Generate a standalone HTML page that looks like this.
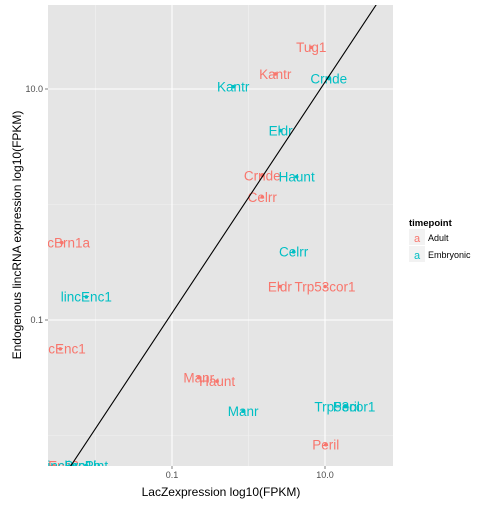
<!DOCTYPE html>
<html><head><meta charset="utf-8"><style>
body{margin:0;background:#fff;}
svg{font-family:"Liberation Sans",sans-serif;}
</style></head><body>
<svg id="chart" width="504" height="504" xmlns="http://www.w3.org/2000/svg">
<defs><clipPath id="pc"><rect x="48" y="5" width="345" height="461"/></clipPath></defs>
<rect x="48" y="5" width="345" height="461" fill="#e5e5e5"/>
<g id="grid"></g>
<g id="marks" clip-path="url(#pc)"></g>
<g id="axes"></g>
<text x="221" y="496" font-size="12" text-anchor="middle" fill="#000">LacZexpression log10(FPKM)</text>
<text transform="translate(21,235) rotate(-90)" font-size="12" text-anchor="middle" fill="#000">Endogenous lincRNA expression log10(FPKM)</text>
<g>
<text x="409" y="226" font-size="9.5" font-weight="bold" fill="#000">timepoint</text>
<rect x="409" y="229" width="16" height="16" fill="#f2f2f2"/>
<text x="417" y="242" font-size="11" text-anchor="middle" fill="#F8766D">a</text>
<text x="428" y="241" font-size="9" fill="#000">Adult</text>
<rect x="409" y="246" width="16" height="16" fill="#f2f2f2"/>
<text x="417" y="259" font-size="11" text-anchor="middle" fill="#00BFC4">a</text>
<text x="428" y="258" font-size="9" fill="#000">Embryonic</text>
</g>
</svg>
<script>
const adultNames=["Tug1","Kantr","Crnde","Celrr","Eldr","Trp53cor1","Manr","Haunt","Peril","lincBrn1a","lincEnc1","lincFoxd1","lincEnc2"];
const adultX=[0.82,0.35,0.18,0.18,0.41,1.0,-0.65,-0.41,1.01,-2.44,-2.46,-3.05,-2.55];
const adultY=[1.36,1.13,0.25,0.065,-0.71,-0.71,-1.5,-1.53,-2.08,-0.33,-1.25,-2.26,-2.26];
const embNames=["Crnde","Kantr","Eldr","Haunt","Celrr","lincEnc1","Manr","Trp53cor1","Peril","lincBrn1b","lincPint"];
const embX=[1.05,-0.2,0.42,0.63,0.59,-2.12,-0.07,1.26,1.28,-2.3,-2.12];
const embY=[1.09,1.02,0.64,0.24,-0.41,-0.8,-1.79,-1.75,-1.75,-2.26,-2.26];
const lineX=[-2.4,1.8];
const lineOffset=0.06;
const xTicks=[-1,1],xTickLabels=["0.1","10.0"];
const yTicks=[-1,1],yTickLabels=["0.1","10.0"];
const xMinor=[-2,0],yMinor=[-2,0];
const sx=v=>248.5+v*76.5, sy=v=>204.5-v*115.5;
const NS="http://www.w3.org/2000/svg";
function mk(tag,attrs,parent){const e=document.createElementNS(NS,tag);for(const k in attrs)e.setAttribute(k,attrs[k]);parent.appendChild(e);return e;}
const grid=document.getElementById('grid'),marks=document.getElementById('marks'),axes=document.getElementById('axes');
xMinor.forEach(v=>{const l=mk('line',{x1:sx(v),x2:sx(v),y1:5,y2:466,stroke:'#f2f2f2','stroke-width':0.6},grid);

});
yMinor.forEach(v=>{const l=mk('line',{x1:48,x2:393,y1:sy(v),y2:sy(v),stroke:'#f2f2f2','stroke-width':0.6},grid);

});
xTicks.forEach((v,i)=>{const l=mk('line',{x1:sx(v),x2:sx(v),y1:5,y2:466,stroke:'#fff','stroke-width':1.1},grid);


const t=mk('line',{x1:sx(v),x2:sx(v),y1:466,y2:469,stroke:'#7f7f7f'},axes);


const tx=mk('text',{x:sx(v),y:478,'font-size':9,'text-anchor':'middle',fill:'#4d4d4d'},axes);tx.textContent=xTickLabels[i];

});
yTicks.forEach((v,i)=>{const l=mk('line',{x1:48,x2:393,y1:sy(v),y2:sy(v),stroke:'#fff','stroke-width':1.1},grid);


const t=mk('line',{x1:45,x2:48,y1:sy(v),y2:sy(v),stroke:'#7f7f7f'},axes);


const tx=mk('text',{x:43,y:sy(v)+3,'font-size':9,'text-anchor':'end',fill:'#4d4d4d'},axes);tx.textContent=yTickLabels[i];

});
function series(names,xs,ys,col,key){names.forEach((n,i)=>{
const c=mk('circle',{cx:sx(xs[i]),cy:sy(ys[i]),r:1.8,fill:col},marks);


const t=mk('text',{x:sx(xs[i]),y:sy(ys[i])+4.8,'font-size':13.5,'text-anchor':'middle',fill:col},marks);t.textContent=n;

});}
series(adultNames,adultX,adultY,'#F8766D','adult');
series(embNames,embX,embY,'#00BFC4','embryonic');
const ab=mk('line',{x1:sx(lineX[0]),y1:sy(lineX[0]+lineOffset),x2:sx(lineX[1]),y2:sy(lineX[1]+lineOffset),stroke:'#000','stroke-width':1.1},marks);


</script>
</body></html>
